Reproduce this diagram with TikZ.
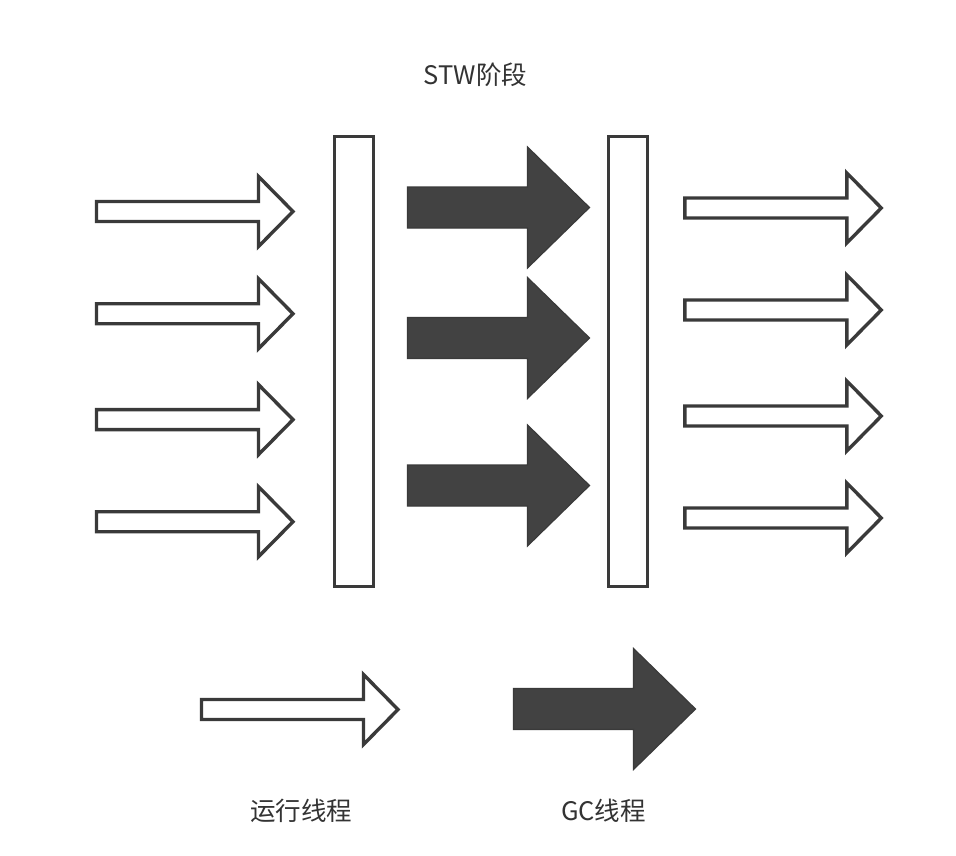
\documentclass[tikz,border=0pt]{standalone}
\usepackage{fontspec}
\setmainfont{Noto Sans CJK SC}
\definecolor{inkc}{HTML}{3A3A3A}
\definecolor{darkfill}{HTML}{424242}
\definecolor{textc}{HTML}{333333}
\tikzset{
  runstyle/.style={draw=inkc, fill=white, line width=3.4pt, line join=miter},
  gcstyle/.style={draw=inkc, fill=darkfill, line width=1.2pt, line join=miter},
  barstyle/.style={draw=inkc, fill=white, line width=3.1pt, minimum width=39pt, minimum height=450pt, inner sep=0pt},
  labelstyle/.style={text=textc, font=\fontsize{25.5}{30}\selectfont, inner sep=0pt},
  pics/runarrow/.style={code={
    \draw[runstyle] (0,-10) -- (162,-10) -- (162,-35) -- (196.5,0) -- (162,35) -- (162,10) -- (0,10) -- cycle;
  }},
  pics/gcarrow/.style={code={
    \draw[gcstyle] (0,-20.5) -- (120,-20.5) -- (120,-60.5) -- (182,0) -- (120,60.5) -- (120,20.5) -- (0,20.5) -- cycle;
  }},
}
\begin{document}
\begin{tikzpicture}[x=1pt,y=-1pt]
  \useasboundingbox (0,0) rectangle (956,856);
  \fill[white] (0,0) rectangle (956,856);

  % title
  \node[labelstyle] (title) at (475.5,75) {STW阶段};

  % bars
  \node[barstyle] (leftbar) at (354.2,361.5) {};
  \node[barstyle] (rightbar) at (628,361.5) {};

  % running threads before STW
  \pic at (96.5,211.5) {runarrow};
  \pic at (96.5,313.7) {runarrow};
  \pic at (96.5,419.6) {runarrow};
  \pic at (96.5,521.7) {runarrow};

  % GC threads
  \pic at (407.5,207.5) {gcarrow};
  \pic at (407.5,338) {gcarrow};
  \pic at (407.5,485.5) {gcarrow};

  % running threads after STW
  \pic at (684.8,208) {runarrow};
  \pic at (684.8,310) {runarrow};
  \pic at (684.8,416) {runarrow};
  \pic at (684.8,518) {runarrow};

  % legend
  \pic at (201.5,709.5) {runarrow};
  \pic at (513.5,709) {gcarrow};
  \node[labelstyle] (runlabel) at (301,811) {运行线程};
  \node[labelstyle] (gclabel) at (603.5,811) {GC线程};
\end{tikzpicture}
\end{document}
